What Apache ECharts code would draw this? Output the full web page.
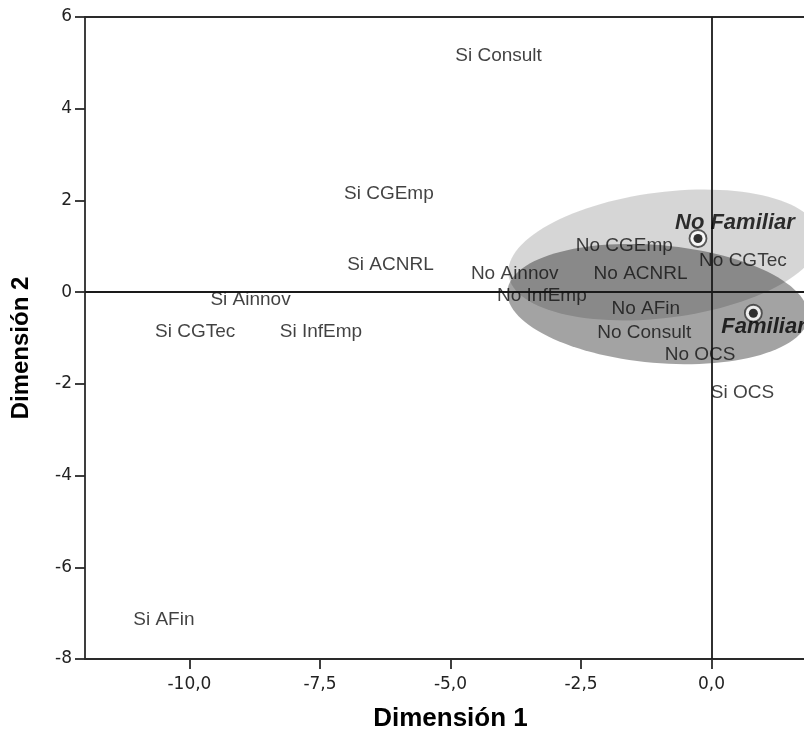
<!DOCTYPE html>
<html>
<head>
<meta charset="utf-8">
<script src="https://cdn.jsdelivr.net/npm/echarts@6/dist/echarts.min.js"></script>
<style>
html,body{margin:0;padding:0;background:#fff;}
#chart{width:804px;height:731px;}
</style>
</head>
<body>
<div id="chart"></div>
<script>
// Category points (labels only)
const categories = ['Si Consult','Si CGEmp','Si ACNRL','Si Ainnov','Si CGTec','Si InfEmp','Si AFin','Si OCS',
  'No Ainnov','No InfEmp','No CGEmp','No ACNRL','No CGTec','No AFin','No Consult','No OCS'];
const dim1 = [-4.08,-6.18,-6.15,-8.83,-9.89,-7.48,-10.49,0.59,-3.77,-3.25,-1.67,-1.36,0.60,-1.26,-1.29,-0.22];
const dim2 = [5.16,2.14,0.59,-0.16,-0.86,-0.86,-7.15,-2.19,0.39,-0.07,1.01,0.39,0.68,-0.36,-0.88,-1.37];

// Group points
const groupNames = ['No Familiar','Familiar'];
const groupDim1 = [-0.26, 0.80];
const groupDim2 = [1.17, -0.46];

// Ellipses (center and conjugate semi-axis vectors, data units)
const ellipseCx = [-0.91, -1.03];
const ellipseCy = [0.81, -0.26];
const ellipseU = [[2.98, 0.435], [2.88, -0.287]];
const ellipseV = [[-0.153, 1.36], [0.098, 1.28]];
const ellipseFill = ['rgba(0,0,0,0.16)', 'rgba(0,0,0,0.36)'];

// Ticks
const xTicks = [-10, -7.5, -5, -2.5, 0];
const yMin = -8, yMax = 6, yStep = 2;

const chart = echarts.init(document.getElementById('chart'));

const axisLineStyle = {color:'#2a2a2a', width:1.8};
const tickFont = {fontFamily:'DejaVu Sans', fontSize:17, color:'#222'};

const option = {
  animation:false,
  grid:{left:85, top:17, width:731, height:642, outerBoundsMode:'none', containLabel:false},
  xAxis:[{
    type:'value', min:-12, max:2,
    axisLine:{show:true, onZero:false, lineStyle:axisLineStyle},
    axisTick:{show:true, customValues:xTicks, length:10, lineStyle:axisLineStyle},
    axisLabel:Object.assign({customValues:xTicks, margin:17,
      formatter:v=>v.toFixed(1).replace('.', ',')}, tickFont),
    splitLine:{show:false},
    name:'Dimensión 1', nameLocation:'middle', nameGap:47,
    nameTextStyle:{fontFamily:'Liberation Sans', fontWeight:'bold', fontSize:26, color:'#000'}
  },{
    type:'value', min:-12, max:2, position:'top',
    axisLine:{show:true, onZero:false, lineStyle:axisLineStyle},
    axisTick:{show:false}, axisLabel:{show:false}, splitLine:{show:false}
  }],
  yAxis:{
    type:'value', min:yMin, max:yMax, interval:yStep,
    axisLine:{show:true, onZero:false, lineStyle:axisLineStyle},
    axisTick:{show:true, length:10, lineStyle:axisLineStyle},
    axisLabel:Object.assign({margin:13}, tickFont),
    splitLine:{show:false},
    name:'Dimensión 2', nameLocation:'middle', nameGap:52, nameRotate:90,
    nameTextStyle:{fontFamily:'Liberation Sans', fontWeight:'bold', fontSize:24, color:'#000',
      padding:[0,20,0,0]}
  },
  series:[
    {
      type:'custom', coordinateSystem:'cartesian2d', z:1, silent:true, clip:false,
      data: ellipseCx.map((c,i)=>[c, ellipseCy[i], i]),
      encode:{x:0, y:1},
      renderItem:function(params, api){
        const i = api.value(2);
        const pts = [];
        for (let k=0;k<120;k++){
          const t = k/120*Math.PI*2;
          const x = ellipseCx[i] + ellipseU[i][0]*Math.cos(t) + ellipseV[i][0]*Math.sin(t);
          const y = ellipseCy[i] + ellipseU[i][1]*Math.cos(t) + ellipseV[i][1]*Math.sin(t);
          pts.push(api.coord([x,y]));
        }
        return {type:'polygon', shape:{points:pts}, style:{fill:ellipseFill[i], stroke:null}};
      }
    },
    {
      type:'scatter', z:5, silent:true,
      symbol:'circle', symbolSize:1,
      itemStyle:{color:'rgba(0,0,0,0)'},
      data: categories.map((n,i)=>[dim1[i], dim2[i], n]),
      label:{show:true, position:'inside', formatter:p=>p.value[2],
        fontFamily:'Liberation Sans', fontSize:19, color:'#111'},
      emphasis:{disabled:true},
      markLine:{silent:true, symbol:'none', label:{show:false},
        lineStyle:{color:'#1a1a1a', width:1.8, type:'solid'},
        data:[{xAxis:0},{yAxis:0}]}
    },
    {
      type:'scatter', z:6, silent:true,
      symbol:'circle', symbolSize:17,
      itemStyle:{color:'#fff', borderColor:'#333', borderWidth:1.8},
      emphasis:{disabled:true},
      data:[
        {value:[groupDim1[0], groupDim2[0], groupNames[0]], label:{offset:[-23,-16]}},
        {value:[groupDim1[1], groupDim2[1], groupNames[1]], label:{offset:[-32,14]}}
      ],
      label:{show:true, position:'inside', align:'left', formatter:p=>p.value[2],
        fontFamily:'Liberation Sans', fontWeight:'bold', fontStyle:'italic', fontSize:22, color:'#000'}
    },
    {
      type:'scatter', z:7, silent:true,
      symbol:'circle', symbolSize:9,
      itemStyle:{color:'#000'},
      emphasis:{disabled:true},
      data: groupNames.map((n,i)=>[groupDim1[i], groupDim2[i]])
    }
  ]
};
chart.setOption(option);
</script>
</body>
</html>
